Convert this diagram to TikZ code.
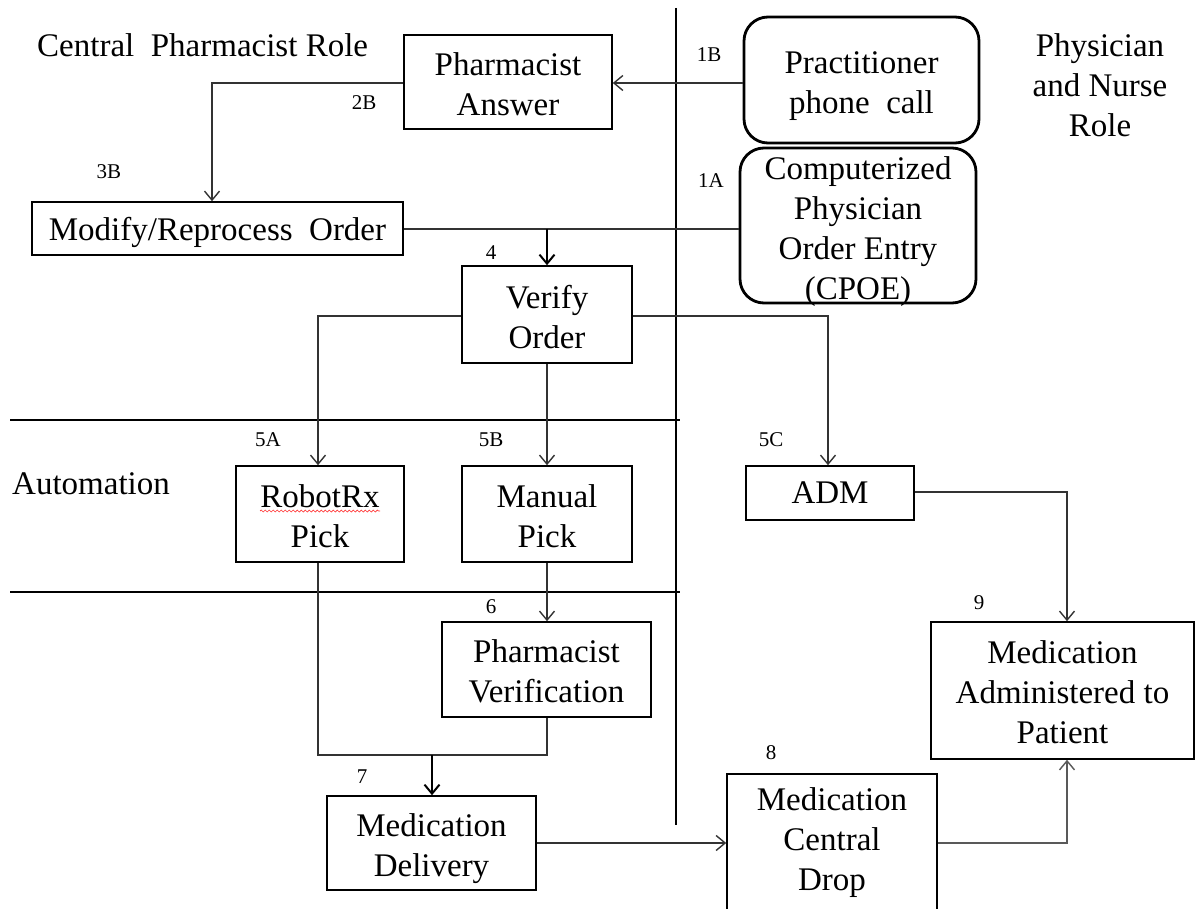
\documentclass[tikz,border=0pt]{standalone}
\usepackage{fontspec}
\setmainfont{Liberation Serif}
\usetikzlibrary{arrows.meta,decorations.pathmorphing}
\newcommand\vpush[1]{\rule{0pt}{#1pt}}
\begin{document}
\begin{tikzpicture}[x=1pt,y=-1pt,
  txt/.style={font=\fontsize{33}{40}\selectfont, align=center, inner sep=0pt},
  sbox/.style={txt, draw=black, line width=1.6pt, minimum width=#1},
  rbox/.style={txt, draw=black, line width=2.8pt, rounded corners=24pt},
  lbl/.style={font=\fontsize{21}{22}\selectfont, inner sep=0pt},
  conn/.style={draw=black!80, line width=1.4pt},
  arr/.style={conn, -{Straight Barb[length=9pt,width=15pt,line width=1.4pt]}},
  thick arr/.style={draw=black, line width=2.4pt, -{Straight Barb[length=9pt,width=15pt,line width=2pt]}},
]
\useasboundingbox (0,0) rectangle (1197,909);
% divider lines
\coordinate (vt) at (676,8);
\coordinate (vb) at (676,825);
\draw[line width=1.4pt] (vt) -- (vb);
\coordinate (h1l) at (10,420);
\coordinate (h1r) at (680,420);
\coordinate (h2l) at (10,592);
\coordinate (h2r) at (680,592);
\draw[line width=1.4pt] (h1l) -- (h1r);
\draw[line width=1.4pt] (h2l) -- (h2r);

% region titles
\node[txt, anchor=west] (cpr) at (37,45) {Central\ \ Pharmacist Role};
\node[txt] (pnr) at (1100,85) {Physician\\and Nurse\\Role};
\node[txt, anchor=west] (auto) at (12,484) {Automation};

% boxes
\node[sbox=208pt, minimum height=94pt] (pa) at (508,82) {\vpush{27}Pharmacist\\Answer};
\node[rbox, minimum width=235pt, minimum height=126pt] (ppc) at (861.5,80) {\vpush{34}Practitioner\\phone\ \ call};
\node[rbox, minimum width=236pt, minimum height=155pt] (cpoe) at (858,225.5) {};
\node[txt] (cpoet) at (858,232) {Computerized\\Physician\\Order Entry\\(CPOE)};
\node[sbox=371pt, minimum height=53pt] (mro) at (217.5,228.5) {\vpush{32}Modify/Reprocess\ \ Order};
\node[sbox=170pt, minimum height=97pt] (vo) at (547,314.5) {\vpush{28}Verify\\Order};
\node[sbox=168pt, minimum height=96pt] (rr) at (320,514) {\vpush{27}RobotRx\\Pick};
\node[sbox=170pt, minimum height=96pt] (mp) at (547,514) {\vpush{27}Manual\\Pick};
\node[sbox=168pt, minimum height=54pt] (adm) at (830,493) {ADM};
\node[sbox=209pt, minimum height=95pt] (pv) at (546.5,669.5) {\vpush{27}Pharmacist\\Verification};
\node[sbox=209pt, minimum height=94pt] (md) at (431.5,843) {\vpush{34}Medication\\Delivery};
\node[sbox=210pt, minimum height=152pt] (mcd) at (832,850) {};
\node[txt] (mcdt) at (832,843) {Medication\\Central\\Drop};
\node[sbox=263pt, minimum height=137pt] (map) at (1062.5,690.5) {\vpush{27}Medication\\Administered to\\Patient};

% spellcheck underline
\coordinate (ul1) at (260,511);
\coordinate (ul2) at (380,511);
\draw[red!80, line width=0.7pt, decorate, decoration={snake, amplitude=1pt, segment length=4pt}] (ul1) -- (ul2);

% step labels
\node[lbl] (l1b) at (709,55) {1B};
\node[lbl] (l2b) at (364,103) {2B};
\node[lbl] (l3b) at (109,172) {3B};
\node[lbl] (l1a) at (711,181) {1A};
\node[lbl] (l4) at (491,253) {4};
\node[lbl] (l5a) at (268,440) {5A};
\node[lbl] (l5b) at (491,440) {5B};
\node[lbl] (l5c) at (771,440) {5C};
\node[lbl] (l6) at (491,607) {6};
\node[lbl] (l7) at (362,777) {7};
\node[lbl] (l8) at (771,753) {8};
\node[lbl] (l9) at (979,603) {9};

% connectors
\draw[arr] (ppc.west |- 0,83) -- (pa.east |- 0,83);
\draw[arr] (pa.west |- 0,83) -| (mro.north -| 212,0);
\coordinate (j4) at (547,229);
\draw[conn] (mro.east |- j4) -- (cpoe.west |- j4);
\draw[thick arr] (j4) -- (vo.north);
\draw[arr] (vo.west |- 0,316) -| (rr.north -| 318,0);
\draw[arr] (vo.south) -- (mp.north);
\draw[arr] (vo.east |- 0,316) -| (adm.north -| 828,0);
\draw[arr] (adm.east |- 0,492) -| (map.north -| 1067,0);
\draw[arr] (mp.south) -- (pv.north -| mp.south);
\coordinate (j7) at (432,755);
\draw[conn] (rr.south -| 318,0) |- (j7);
\draw[conn] (pv.south -| 547,0) |- (j7);
\draw[thick arr] (j7) -- (md.north -| j7);
\draw[arr] (md.east |- 0,843) -- (mcd.west |- 0,843);
\draw[arr, draw=black!65] (mcd.east |- 0,843) -| (map.south -| 1067,0);
\end{tikzpicture}
\end{document}
